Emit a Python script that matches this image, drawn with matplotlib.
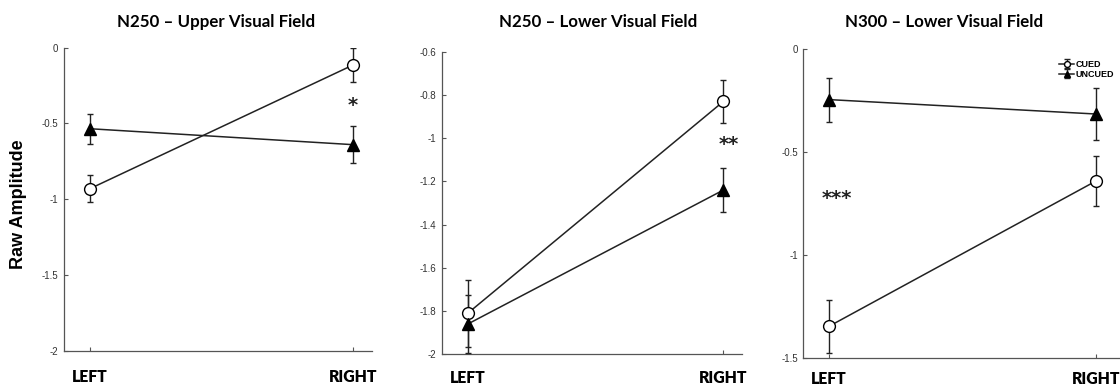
import matplotlib.pyplot as plt

conditions = ["LEFT", "RIGHT"]
panel_titles = ["N250 \u2013 Upper Visual Field", "N250 \u2013 Lower Visual Field", "N300 \u2013 Lower Visual Field"]

# mean amplitudes and error bars per panel
cued_means = [[-0.93, -0.115], [-1.81, -0.83], [-1.345, -0.64]]
cued_err = [[0.088, 0.115], [0.155, 0.098], [0.13, 0.12]]
uncued_means = [[-0.535, -0.64], [-1.86, -1.24], [-0.245, -0.315]]
uncued_err = [[0.10, 0.12], [0.135, 0.103], [0.107, 0.125]]

y_limits = [(-2, 0), (-2, -0.6), (-1.5, 0)]
y_ticks = [[-2, -1.5, -1, -0.5, 0], [-2, -1.8, -1.6, -1.4, -1.2, -1, -0.8, -0.6], [-1.5, -1, -0.5, 0]]
y_ticklabels = [["-2", "-1.5", "-1", "-0.5", "0"],
                ["-2", "-1.8", "-1.6", "-1.4", "-1.2", "-1", "-0.8", "-0.6"],
                ["-1.5", "-1", "-0.5", "0"]]
x_limits = [(0.901, 2.072), (0.898, 2.072), (0.904, 2.09)]

sig_labels = ["*", "**", "***"]
sig_pos = [(2.0, -0.385), (2.02, -1.03), (1.03, -0.727)]

# axes rectangles in figure fractions, and x tick label padding per panel
rects = [[0.0571, 0.0954, 0.275, 0.782],
         [0.3944, 0.0869, 0.268, 0.780],
         [0.7172, 0.0765, 0.2828, 0.797]]
xtick_pad = [13.1, 11.4, 8.8]
title_x = [216, 598, 944]

fig = plt.figure(figsize=(11.2, 3.88), dpi=100)
fig.patch.set_facecolor("white")
line_col = "#222222"
xs = [1, 2]

for i in range(3):
    ax = fig.add_axes(rects[i])
    h_cued = ax.errorbar(xs, cued_means[i], yerr=cued_err[i], color=line_col, lw=1.1,
                         marker="o", ms=8.5, mfc="white", mec="black", mew=1.0,
                         ecolor=line_col, elinewidth=1.0, capsize=2.5, capthick=1.0, zorder=3)
    h_uncued = ax.errorbar(xs, uncued_means[i], yerr=uncued_err[i], color=line_col, lw=1.1,
                           marker="^", ms=9, mfc="black", mec="black",
                           ecolor=line_col, elinewidth=1.0, capsize=2.5, capthick=1.0, zorder=3)
    ax.set_xlim(*x_limits[i])
    ax.set_ylim(*y_limits[i])
    ax.set_yticks(y_ticks[i])
    ax.set_yticklabels(y_ticklabels[i], fontsize=7, color="#333333", family="Liberation Sans")
    ax.set_xticks(xs)
    ax.set_xticklabels(conditions, fontsize=11.3, fontweight="heavy", family="Lato")
    ax.tick_params(axis="y", direction="in", length=3, width=0.8, color="#555555", pad=4)
    ax.tick_params(axis="x", direction="in", length=3, width=0.8, color="#555555",
                   pad=xtick_pad[i])
    for s in ["top", "right"]:
        ax.spines[s].set_visible(False)
    for s in ["left", "bottom"]:
        ax.spines[s].set_color("#555555")
        ax.spines[s].set_linewidth(0.9)
    fig.text(title_x[i] / 1120, 1 - 22 / 388, panel_titles[i], ha="center", va="center",
             fontsize=12.2, fontweight="bold", family="Lato")
    ax.text(sig_pos[i][0], sig_pos[i][1], sig_labels[i], ha="center", va="center",
            fontsize=14, fontweight="bold", color="#222222")

    if i == 2:
        ax.legend([h_cued, h_uncued], ["CUED", "UNCUED"], loc="upper right",
                  bbox_to_anchor=(1.0, 0.985), frameon=False, handlelength=1.6,
                  handletextpad=0.15, labelspacing=0.1, borderaxespad=0.3, markerscale=0.5,
                  prop={"size": 6.5, "weight": "bold", "family": "Liberation Sans"})

fig.text(19 / 1120, 1 - 204 / 388, "Raw Amplitude", rotation=90, ha="center", va="center",
         fontsize=13, fontweight="bold", family="Liberation Sans")

fig.savefig("out.png", dpi=100, facecolor="white")
